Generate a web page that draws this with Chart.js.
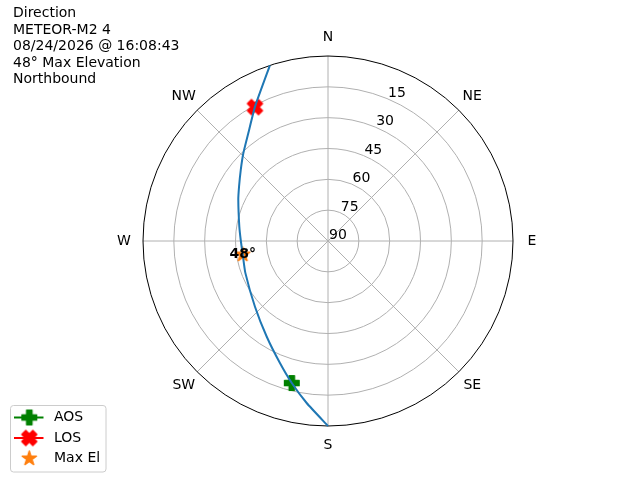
<!DOCTYPE html>
<html>
<head>
<meta charset="utf-8">
<script src="https://cdn.jsdelivr.net/npm/chart.js@4.4.1/dist/chart.umd.min.js"></script>
<style>
  html, body { margin: 0; padding: 0; background: #fff; }
  #wrap { width: 640px; height: 480px; }
</style>
</head>
<body>
<div id="wrap"><canvas id="chart" width="640" height="480"></canvas></div>
<script>
// pass track, azimuth (deg) and elevation (deg)
const passAz = [180, 187.5, 194.3, 201.5, 212.6, 228, 248.9, 261, 270, 279.2, 294.6, 301.4, 309.1, 316, 323.5, 331.5, 341.7];
const passEl = [0, 10.5, 18.7, 26.2, 34.7, 42.2, 46.9, 48, 47.6, 46.3, 42.0, 39.3, 35.3, 30.7, 24.8, 15.6, 0];

// markers [az, el]
const aosAzEl = [194.3, 18.7];
const losAzEl = [331.4, 15.8];
const maxElAzEl = [261, 48];

const directionLabels = ["N", "NE", "E", "SE", "S", "SW", "W", "NW"];
const elevationTicks = [90, 75, 60, 45, 30, 15];
const titleLines = ["Direction", "METEOR-M2 4", "08/24/2026 @ 16:08:43", "48° Max Elevation", "Northbound"];
const legendLabels = ["AOS", "LOS", "Max El"];

const FONT = "14px 'DejaVu Sans', sans-serif";

// polar (az, el) -> x/y in the hidden linear scales (radius = 90 - el)
function toXY(az, el) {
  const a = az * Math.PI / 180;
  const r = 90 - el;
  return { x: r * Math.sin(a), y: r * Math.cos(a) };
}

// marker images (filled plus, filled x, filled star)
function makeMarker(kind, color, size) {
  const c = document.createElement("canvas");
  c.width = size + 4;
  c.height = size + 4;
  const g = c.getContext("2d");
  g.translate(c.width / 2, c.height / 2);
  g.fillStyle = color;
  g.strokeStyle = color;
  g.lineJoin = "round";
  g.lineWidth = 1.4;
  g.beginPath();
  if (kind === "star") {
    const ro = size / 2, ri = ro * 0.382;
    for (let i = 0; i < 10; i++) {
      const rr = i % 2 === 0 ? ro : ri;
      const a = -Math.PI / 2 + i * Math.PI / 5;
      const px = rr * Math.cos(a), py = rr * Math.sin(a);
      if (i === 0) g.moveTo(px, py); else g.lineTo(px, py);
    }
  } else {
    if (kind === "x") g.rotate(Math.PI / 4);
    const h = size / 2 - 0.7, w = size / 6;
    const pts = [[-w, -h], [w, -h], [w, -w], [h, -w], [h, w], [w, w], [w, h], [-w, h], [-w, w], [-h, w], [-h, -w], [-w, -w]];
    pts.forEach((p, i) => (i === 0 ? g.moveTo(p[0], p[1]) : g.lineTo(p[0], p[1])));
  }
  g.closePath();
  g.fill();
  g.stroke();
  return c;
}

const plusImg = makeMarker("plus", "#008000", 16);
const xImg = makeMarker("x", "#ff0000", 17);
const starImg = makeMarker("star", "#ff7f0e", 15);

const polarGrid = {
  id: "polarGrid",
  beforeDatasetsDraw(chart) {
    const ctx = chart.ctx;
    const xs = chart.scales.x, ys = chart.scales.y;
    const cx = xs.getPixelForValue(0), cy = ys.getPixelForValue(0);
    const R = xs.getPixelForValue(90) - cx;
    ctx.save();
    ctx.strokeStyle = "#b0b0b0";
    ctx.lineWidth = 1;
    elevationTicks.forEach((t) => {
      const r = (90 - t) / 90 * R;
      if (r <= 0) return;
      ctx.beginPath();
      ctx.arc(cx, cy, r, 0, Math.PI * 2);
      ctx.stroke();
    });
    for (let i = 0; i < 8; i++) {
      const a = i * Math.PI / 4;
      ctx.beginPath();
      ctx.moveTo(cx, cy);
      ctx.lineTo(cx + R * Math.sin(a), cy - R * Math.cos(a));
      ctx.stroke();
    }
    ctx.strokeStyle = "#000";
    ctx.beginPath();
    ctx.arc(cx, cy, R, 0, Math.PI * 2);
    ctx.stroke();

    ctx.fillStyle = "#000";
    ctx.font = FONT;
    ctx.textAlign = "center";
    ctx.textBaseline = "middle";
    const lr = R * 204 / 185;
    directionLabels.forEach((lab, i) => {
      const a = i * Math.PI / 4;
      ctx.fillText(lab, cx + lr * Math.sin(a), cy - lr * Math.cos(a));
    });

    ctx.textAlign = "left";
    ctx.textBaseline = "alphabetic";
    const ta = 22.5 * Math.PI / 180;
    elevationTicks.forEach((t) => {
      const r = (90 - t) / 90 * R;
      ctx.fillText(String(t), cx + r * Math.sin(ta) + 1, cy - r * Math.cos(ta) - 2);
    });
    ctx.restore();
  },
  afterDraw(chart) {
    const ctx = chart.ctx;
    const xs = chart.scales.x, ys = chart.scales.y;
    ctx.save();
    // max elevation label
    const m = toXY(maxElAzEl[0], maxElAzEl[1]);
    ctx.font = "bold " + FONT;
    ctx.fillStyle = "#000";
    ctx.textAlign = "center";
    ctx.textBaseline = "middle";
    ctx.fillText(Math.round(maxElAzEl[1]) + "°", xs.getPixelForValue(m.x), ys.getPixelForValue(m.y));

    // title block
    ctx.font = FONT;
    ctx.textAlign = "left";
    ctx.textBaseline = "alphabetic";
    titleLines.forEach((line, i) => ctx.fillText(line, 13, 17 + i * 16.5));

    // legend
    const bx = 10.5, by = 405.5, bw = 95.5, bh = 66.5;
    ctx.fillStyle = "rgba(255,255,255,0.8)";
    ctx.strokeStyle = "#cccccc";
    ctx.lineWidth = 1;
    ctx.beginPath();
    ctx.roundRect(bx, by, bw, bh, 3);
    ctx.fill();
    ctx.stroke();
    const items = [
      { img: plusImg, color: "#008000", line: true },
      { img: xImg, color: "#ff0000", line: true },
      { img: starImg, color: "#ff7f0e", line: false }
    ];
    items.forEach((it, i) => {
      const y = 417.5 + i * 20.5;
      if (it.line) {
        ctx.strokeStyle = it.color;
        ctx.lineWidth = 2;
        ctx.beginPath();
        ctx.moveTo(14, y);
        ctx.lineTo(43.5, y);
        ctx.stroke();
      }
      ctx.drawImage(it.img, 29.3 - it.img.width / 2, y - it.img.height / 2);
      ctx.fillStyle = "#000";
      ctx.textBaseline = "middle";
      ctx.fillText(legendLabels[i], 54, y);
    });
    ctx.restore();
  }
};

const trackPoints = passAz.map((az, i) => toXY(az, passEl[i]));

new Chart(document.getElementById("chart"), {
  type: "scatter",
  data: {
    datasets: [
      {
        label: "Track",
        data: trackPoints,
        showLine: true,
        borderColor: "#1f77b4",
        borderWidth: 2,
        pointRadius: 0,
        tension: 0.15,
        clip: false
      },
      {
        label: legendLabels[0],
        data: [toXY(aosAzEl[0], aosAzEl[1])],
        pointStyle: plusImg,
        clip: false
      },
      {
        label: legendLabels[1],
        data: [toXY(losAzEl[0], losAzEl[1])],
        pointStyle: xImg,
        clip: false
      },
      {
        label: legendLabels[2],
        data: [toXY(maxElAzEl[0], maxElAzEl[1])],
        pointStyle: starImg,
        clip: false
      }
    ]
  },
  options: {
    responsive: false,
    animation: false,
    devicePixelRatio: 1,
    layout: { padding: { left: 143, right: 127, top: 56, bottom: 54 } },
    plugins: {
      legend: { display: false },
      tooltip: { enabled: false }
    },
    scales: {
      x: { type: "linear", display: false, min: -90, max: 90 },
      y: { type: "linear", display: false, min: -90, max: 90 }
    }
  },
  plugins: [polarGrid]
});
</script>
</body>
</html>
